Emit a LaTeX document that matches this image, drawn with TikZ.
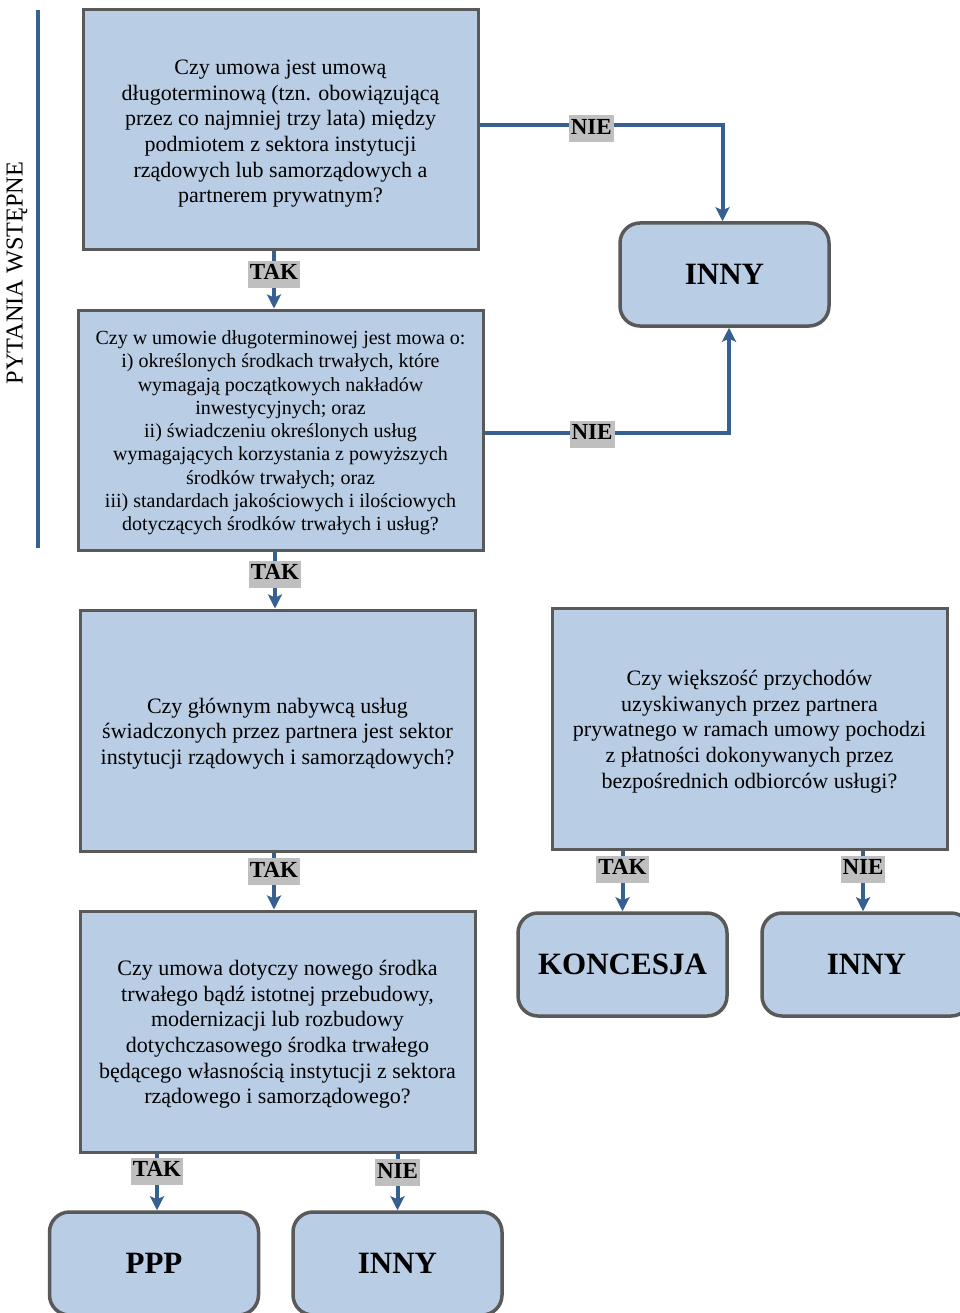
\documentclass[tikz,border=0pt]{standalone}
\usepackage{fontspec}
\setmainfont{Liberation Serif}
\usetikzlibrary{arrows.meta}
\definecolor{boxfill}{HTML}{B9CDE5}
\definecolor{boxline}{HTML}{595959}
\definecolor{arrblue}{HTML}{376092}
\definecolor{lblgray}{HTML}{BFBFBF}
\newcommand{\topstrut}[1]{\rule{0pt}{#1}}
\tikzset{
  qbox/.style={draw=boxline, line width=3pt, fill=boxfill, align=center, inner sep=0pt,
    font=\fontsize{22}{25.6}\selectfont},
  rbox/.style={draw=boxline, line width=3.5pt, fill=boxfill, rounded corners=20pt,
    minimum width=209pt, minimum height=103pt, inner sep=0pt,
    font=\fontsize{31}{36}\selectfont\bfseries},
  arr/.style={draw=arrblue, line width=4pt, -{Stealth[length=14pt,width=14pt,inset=3pt]}},
  lbl/.style={fill=lblgray, inner xsep=2pt, inner ysep=3pt, text height=16pt, text depth=5pt,
    font=\fontsize{23}{26}\selectfont\bfseries},
}
\begin{document}
\begin{tikzpicture}[x=1pt,y=-1pt]
\useasboundingbox (0,0) rectangle (960,1313);
\clip (0,0) rectangle (960,1313);

% side label
\draw[draw=arrblue, line width=4pt] (38,10) -- (38,548);
\node[rotate=90, font=\fontsize{24.3}{28}\selectfont] (side) at (17,273) {PYTANIA WSTĘPNE};

% question boxes
\node[qbox, minimum width=395pt, minimum height=240pt] (b1) at (280.5,130)
  {\topstrut{22pt}Czy umowa jest umową\\długoterminową (tzn. obowiązującą\\przez co najmniej trzy lata) między\\podmiotem z sektora instytucji\\rządowych lub samorządowych a\\partnerem prywatnym?};
\node[qbox, minimum width=405pt, minimum height=240pt, font=\fontsize{20}{23.25}\selectfont] (b2) at (280.5,430)
  {\topstrut{19.6pt}Czy w umowie długoterminowej jest mowa o:\\i) określonych środkach trwałych, które\\wymagają początkowych nakładów\\inwestycyjnych; oraz\\ii) świadczeniu określonych usług\\wymagających korzystania z powyższych\\środków trwałych; oraz\\iii) standardach jakościowych i ilościowych\\dotyczących środków trwałych i usług?};
\node[qbox, minimum width=395pt, minimum height=241pt] (b3) at (277.5,730.5)
  {\topstrut{21.5pt}Czy głównym nabywcą usług\\świadczonych przez partnera jest sektor\\instytucji rządowych i samorządowych?};
\node[qbox, minimum width=395pt, minimum height=241pt] (b4) at (277.5,1031.5)
  {\topstrut{21pt}Czy umowa dotyczy nowego środka\\trwałego bądź istotnej przebudowy,\\modernizacji lub rozbudowy\\dotychczasowego środka trwałego\\będącego własnością instytucji z sektora\\rządowego i samorządowego?};
\node[qbox, minimum width=395pt, minimum height=241pt] (b5) at (749.5,728.5)
  {\topstrut{21.5pt}Czy większość przychodów\\uzyskiwanych przez partnera\\prywatnego w ramach umowy pochodzi\\z płatności dokonywanych przez\\bezpośrednich odbiorców usługi?};

% result boxes
\node[rbox] (inny1) at (724.5,274.5) {INNY};
\node[rbox] (kon) at (622.5,964.5) {KONCESJA};
\node[rbox] (inny2) at (866.5,964.5) {INNY};
\node[rbox] (ppp) at (154,1263.5) {PPP};
\node[rbox] (inny3) at (397.5,1263.5) {INNY};

% connectors
\draw[arr] ([yshift=5pt]b1.east) -| ([xshift=-2pt]inny1.north) node[lbl, pos=0.23, yshift=-4pt] {NIE};
\draw[arr] ([yshift=-3pt]b2.east) -| ([xshift=4.5pt]inny1.south) node[lbl, pos=0.22, yshift=-1pt] {NIE};
\draw[arr] ([xshift=-6.5pt]b1.south) -- ([xshift=-6.5pt]b2.north) node[lbl, pos=0.4] {TAK};
\draw[arr] ([xshift=-5.5pt]b2.south) -- ([xshift=-2.5pt]b3.north) node[lbl, pos=0.4] {TAK};
\draw[arr] ([xshift=-3.5pt]b3.south) -- ([xshift=-3.5pt]b4.north) node[lbl, pos=0.34] {TAK};
\draw[arr] ([xshift=3pt]b4.south -| ppp.north) -- ([xshift=3pt]ppp.north) node[lbl, pos=0.31] {TAK};
\draw[arr] (b4.south -| inny3.north) -- (inny3.north) node[lbl, pos=0.34] {NIE};
\draw[arr] (b5.south -| kon.north) -- (kon.north) node[lbl, pos=0.31] {TAK};
\draw[arr] ([xshift=-3.5pt]b5.south -| inny2.north) -- ([xshift=-3.5pt]inny2.north) node[lbl, pos=0.31] {NIE};
\end{tikzpicture}
\end{document}
